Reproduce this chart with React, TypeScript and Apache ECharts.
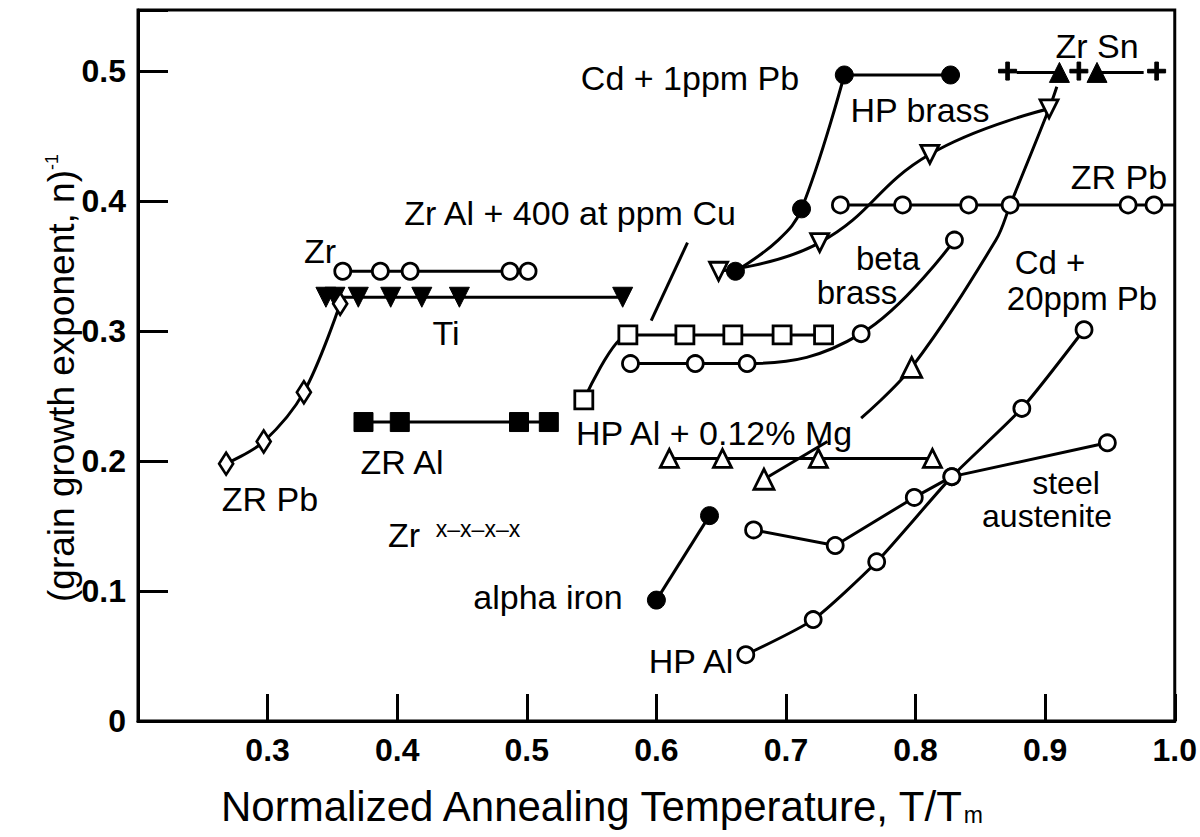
import React, { useEffect, useRef } from "react";
import * as echarts from "echarts";

// ---------- axis ----------
const xMin = 0.2;
const xMax = 1.0;
const yMin = 0;
const yMax = 0.547;
const tickStep = 0.1;

// ---------- series (T/Tm, 1/n) ----------
const zrCircles = [[0.358, 0.346], [0.387, 0.346], [0.41, 0.346], [0.487, 0.346], [0.501, 0.346]];
const tiTriangles = [[0.345, 0.326], [0.352, 0.326], [0.37, 0.326], [0.395, 0.326], [0.419, 0.326], [0.448, 0.326], [0.574, 0.326]];
const zrPbDiamonds = [[0.268, 0.198], [0.297, 0.215], [0.328, 0.253], [0.356, 0.321]];
const zrAlSquares = [[0.374, 0.23], [0.402, 0.23], [0.494, 0.23], [0.517, 0.23]];
const hpAlMgSquares = [[0.544, 0.247], [0.578, 0.297], [0.622, 0.297], [0.659, 0.297], [0.697, 0.297], [0.729, 0.297]];
const betaBrass = [[0.58, 0.275], [0.63, 0.275], [0.67, 0.275], [0.758, 0.298], [0.83, 0.37]];
const hpAlMgTriangles = [[0.61, 0.202], [0.651, 0.202], [0.725, 0.202], [0.813, 0.202]];
const cd20Triangles = [[0.683, 0.186], [0.797, 0.272]];
const cd20Lower = [[0.683, 0.186], [0.732, 0.215]];
const cd20Upper = [[0.758, 0.233], [0.797, 0.272], [0.862, 0.37], [0.873, 0.397], [0.903, 0.471], [0.909, 0.488]];
const alphaIron = [[0.6, 0.093], [0.641, 0.158]];
const steelAustenite = [[0.675, 0.147], [0.738, 0.135], [0.799, 0.172], [0.828, 0.188], [0.948, 0.214]];
const hpAl = [[0.669, 0.051], [0.721, 0.078], [0.77, 0.1225], [0.828, 0.188], [0.882, 0.2405], [0.93, 0.301]];
const hpBrass = [[0.648, 0.346], [0.726, 0.368], [0.811, 0.436], [0.903, 0.471]];
const cd1Curve = [[0.661, 0.346], [0.694, 0.37], [0.712, 0.394], [0.745, 0.497]];
const cd1Flat = [[0.745, 0.497], [0.827, 0.497]];
const cd1Circles = [[0.661, 0.346], [0.712, 0.394], [0.745, 0.497], [0.827, 0.497]];
const zrPbRight = [[0.742, 0.397], [0.79, 0.397], [0.841, 0.397], [0.873, 0.397], [0.964, 0.397], [0.984, 0.397]];
const zrPbRightLine = [...zrPbRight, [1.0, 0.397]];
const zrSnPlus = [[0.871, 0.5], [0.926, 0.5], [0.986, 0.5]];
const zrSnTriangles = [[0.911, 0.499], [0.94, 0.499]];
const zrSnLineA = [[0.878, 0.499], [0.911, 0.499]];
const zrSnLineB = [[0.94, 0.499], [0.976, 0.499]];
const cuPointer = [[0.596, 0.308], [0.624, 0.368]];

// ---------- labels ----------
const labels = [
  { t: "Zr", x: 320, y: 251, s: 34 },
  { t: "Ti", x: 446, y: 333, s: 34 },
  { t: "ZR Pb", x: 270, y: 499, s: 34 },
  { t: "ZR Al", x: 402, y: 462, s: 34 },
  { t: "Zr", x: 404, y: 535, s: 34 },
  { t: "Zr Al + 400 at ppm Cu", x: 570, y: 213, s: 34 },
  { t: "Cd + 1ppm Pb", x: 690, y: 78, s: 34 },
  { t: "HP brass", x: 920, y: 110, s: 34 },
  { t: "Zr Sn", x: 1097, y: 46, s: 34 },
  { t: "ZR Pb", x: 1119, y: 177, s: 34 },
  { t: "beta", x: 888, y: 258, s: 33 },
  { t: "brass", x: 857, y: 292, s: 33 },
  { t: "Cd +", x: 1050, y: 262, s: 33 },
  { t: "20ppm Pb", x: 1082, y: 298, s: 33 },
  { t: "HP Al + 0.12% Mg", x: 714, y: 433, s: 34 },
  { t: "steel", x: 1066, y: 483, s: 32 },
  { t: "austenite", x: 1047, y: 516, s: 32 },
  { t: "HP Al", x: 691, y: 661, s: 34 },
  { t: "alpha iron", x: 548, y: 597, s: 34 },
];
const smallLabel = { t: "x\u2013x\u2013x\u2013x", x: 478, y: 529 };

const FONT = '"Liberation Sans", Arial, Helvetica, sans-serif';
const PLUS = "path://M4,0 H6 V4 H10 V6 H6 V10 H4 V6 H0 V4 H4 Z";

export default function App() {
  const ref = useRef<HTMLDivElement>(null);
  useEffect(() => {
    const chart = echarts.init(ref.current!, null, { renderer: "svg" });

    const line = (data: any, smooth: any = false) => ({
      type: "line",
      data,
      symbol: "none",
      showSymbol: false,
      smooth,
      lineStyle: { color: "#000", width: 3, opacity: 1 },
      z: 2,
      silent: true,
    });
    const mark = (data: any, symbol: string, size: any, filled: boolean, rotate = 0) => ({
      type: "scatter",
      data,
      symbol,
      symbolSize: size,
      symbolRotate: rotate,
      itemStyle: filled
        ? { color: "#000", borderColor: "#000", borderWidth: 1, opacity: 1 }
        : { color: "#fff", borderColor: "#000", borderWidth: 2.8, opacity: 1 },
      z: 5,
      silent: true,
    });

    const graphics: any[] = labels.map((l) => ({
      type: "text",
      x: l.x,
      y: l.y,
      z: 100,
      style: { text: l.t, font: `${l.s}px ${FONT}`, fill: "#000", align: "center", verticalAlign: "middle" },
    }));
    graphics.push({
      type: "text",
      x: smallLabel.x,
      y: smallLabel.y,
      z: 100,
      style: { text: smallLabel.t, font: `23px ${FONT}`, fill: "#000", align: "center", verticalAlign: "middle" },
    });
    graphics.push({
      type: "text",
      x: 61,
      y: 378,
      rotation: Math.PI / 2,
      z: 100,
      style: {
        text: "(grain growth exponent, n){s|-1}",
        font: `37px ${FONT}`,
        fill: "#000",
        align: "center",
        verticalAlign: "middle",
        rich: { s: { fontSize: 18, fontFamily: FONT, padding: [0, 0, 18, 0] } },
      },
    });
    graphics.push({
      type: "text",
      x: 601,
      y: 806,
      z: 100,
      style: {
        text: "Normalized Annealing Temperature, T/T{m|m}",
        font: `42px ${FONT}`,
        fill: "#000",
        align: "center",
        verticalAlign: "middle",
        rich: { m: { fontSize: 23, fontFamily: FONT, padding: [17, 0, 0, 0] } },
      },
    });

    const tickFont = { color: "#000", fontSize: 32, fontWeight: "bold" as const, fontFamily: FONT };

    chart.setOption({
      animation: false,
      backgroundColor: "#fff",
      grid: { left: 138, right: 16, top: 10, bottom: 116, show: true, borderColor: "#000", borderWidth: 3 },
      xAxis: {
        type: "value",
        min: xMin,
        max: xMax,
        interval: tickStep,
        axisLine: { lineStyle: { color: "#000", width: 3 } },
        axisTick: { inside: true, length: 27, lineStyle: { color: "#000", width: 3 } },
        splitLine: { show: false },
        axisLabel: {
          ...tickFont,
          margin: 13,
          formatter: (v: number) => (Math.abs(v - 0.2) < 1e-6 ? "" : v.toFixed(1)),
        },
      },
      yAxis: {
        type: "value",
        min: yMin,
        max: yMax,
        interval: tickStep,
        axisLine: { lineStyle: { color: "#000", width: 3 } },
        axisTick: { inside: true, length: 30, lineStyle: { color: "#000", width: 3 } },
        splitLine: { show: false },
        axisLabel: {
          ...tickFont,
          margin: 12,
          formatter: (v: number) => (v === 0 ? "0" : v > 0.51 ? "" : v.toFixed(1)),
        },
      },
      series: [
        line(zrCircles),
        line(tiTriangles),
        line(zrPbDiamonds, 0.35),
        line(zrAlSquares),
        line(hpAlMgSquares, 0.25),
        line(betaBrass, 0.4),
        line(hpAlMgTriangles),
        line(cd20Lower),
        line(cd20Upper, 0.35),
        line(alphaIron),
        line(steelAustenite),
        line(hpAl, 0.2),
        line(hpBrass, 0.45),
        line(cd1Curve, 0.4),
        line(cd1Flat),
        line(zrPbRightLine),
        line(zrSnLineA),
        line(zrSnLineB),
        line(cuPointer),
        mark(zrCircles, "circle", 16, false),
        mark(tiTriangles, "triangle", 20, true, 180),
        mark(zrPbDiamonds, "diamond", [14, 22], false),
        mark(zrAlSquares, "rect", 19, true),
        mark(hpAlMgSquares, "rect", 18, false),
        mark(betaBrass, "circle", 16, false),
        mark(hpAlMgTriangles, "triangle", 18, false),
        mark(cd20Triangles, "triangle", 20, false),
        mark(alphaIron, "circle", 18, true),
        mark(steelAustenite, "circle", 16, false),
        mark(hpAl, "circle", 16, false),
        mark(hpBrass, "triangle", 18, false, 180),
        mark(cd1Circles, "circle", 18, true),
        mark(zrPbRight, "circle", 16, false),
        mark(zrSnPlus, PLUS, 18, true),
        mark(zrSnTriangles, "triangle", 20, true),
      ],
      graphic: graphics,
    });
    return () => chart.dispose();
  }, []);
  return <div ref={ref} style={{ position: "fixed", left: 0, top: 0, width: 1200, height: 837 }} />;
}
